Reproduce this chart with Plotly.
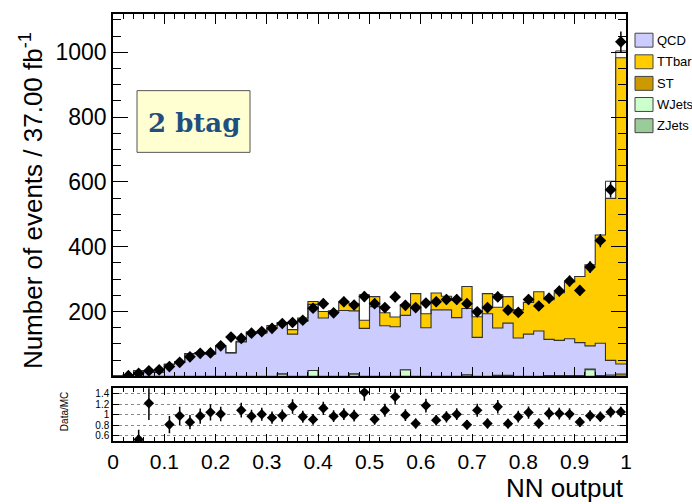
import numpy as np
import plotly.graph_objects as go

# 50 bins of width 0.02 in NN output
n_bins = 50
edges = np.linspace(0.0, 1.0, n_bins + 1)
centers = 0.5 * (edges[:-1] + edges[1:])

# observed events per bin
data = [0, 2, 9, 17, 20, 30, 43, 60, 71, 72,
        94, 121, 117, 133, 138, 148, 163, 166, 173, 210,
        224, 196, 230, 220, 246, 224, 212, 245, 219, 212,
        226, 230, 237, 237, 224, 199, 212, 245, 204, 197,
        237, 217, 241, 263, 294, 265, 337, 419, 576, 1032]

# simulated backgrounds per bin
qcd = [1, 5, 17, 14, 12, 37, 44, 70, 73, 69,
       92, 72, 106, 134, 133, 149, 152, 130, 170, 204,
       180, 197, 203, 194, 148, 215, 156, 153, 168, 214,
       150, 205, 205, 181, 204, 120, 193, 146, 161, 118,
       130, 140, 112, 109, 114, 102, 72, 100, 45, 31]
ttbar = [0, 0, 0, 0, 0, 0, 0, 0, 0, 0,
         1, 1, 2, 3, 4, 8, 6, 14, 10, 9,
         20, 5, 25, 22, 25, 31, 40, 30, 33, 41,
         43, 52, 42, 54, 68, 64, 62, 64, 82, 87,
         98, 121, 122, 147, 175, 204, 250, 334, 500, 945]
st = [0, 0, 0, 0, 0, 0, 0, 0, 0, 0,
      0, 0, 0, 0, 0, 0, 0, 0, 0, 0,
      0, 0, 0, 0, 0, 0, 0, 0, 0, 0,
      0, 0, 0, 0, 0, 0, 0, 0, 0, 0,
      0, 0, 2, 2, 2, 2, 2, 2, 4, 7]
wjets = [0, 0, 0, 0, 0, 0, 0, 0, 0, 0,
         0, 0, 0, 0, 0, 0, 0, 0, 0, 18,
         0, 0, 0, 0, 0, 0, 0, 0, 20, 0,
         0, 0, 0, 0, 0, 0, 0, 3, 3, 0,
         0, 0, 0, 0, 0, 0, 20, 0, 0, 0]
zjets = [0, 0, 0, 0, 0, 0, 0, 0, 0, 0,
         0, 0, 0, 0, 0, 0, 8, 0, 0, 0,
         0, 0, 0, 8, 0, 0, 0, 0, 0, 0,
         0, 0, 0, 0, 5, 0, 0, 0, 0, 0,
         0, 0, 0, 0, 0, 0, 0, 0, 0, 0]

# outlined reference histogram drawn beneath the stack
outline_hist = [0, 0, 0, 0, 0, 0, 0, 0, 0, 0,
                0, 0, 0, 0, 0, 0, 0, 163, 0, 0,
                0, 0, 0, 0, 252, 0, 0, 0, 0, 0,
                0, 0, 0, 0, 0, 0, 0, 252, 0, 0,
                0, 0, 0, 0, 0, 0, 0, 0, 602, 1004]

# relative statistical uncertainty of the simulation, added to the ratio errors
mc_rel_unc = 0.09

colors = {
    "QCD": "#ccccff",
    "TTbar": "#ffcc00",
    "ST": "#cc9900",
    "WJets": "#ccffcc",
    "ZJets": "#99cc99",
}
legend_order = ["QCD", "TTbar", "ST", "WJets", "ZJets"]

FONT = "Liberation Sans, Arial, sans-serif"
EDGE = "#333333"


def step(vals):
    vals = list(vals)
    return list(edges), vals + [vals[-1]]


fig = go.Figure()

# white outlined histogram behind everything
sx, sy = step(outline_hist)
fig.add_trace(go.Scatter(x=sx, y=sy, mode="lines", line=dict(shape="hv", color=EDGE, width=1),
                         fill="tozeroy", fillcolor="white", hoverinfo="skip",
                         xaxis="x", yaxis="y"))

# stacked backgrounds, bottom to top
stack_parts = [("ZJets", zjets), ("WJets", wjets), ("ST", st), ("QCD", qcd), ("TTbar", ttbar)]
cum = np.zeros(n_bins)
for i, (name, vals) in enumerate(stack_parts):
    cum = cum + np.array(vals, dtype=float)
    sx, sy = step(cum)
    fig.add_trace(go.Scatter(x=sx, y=sy, mode="lines", name=name,
                             line=dict(shape="hv", color=EDGE, width=1.1),
                             fill="tozeroy" if i == 0 else "tonexty",
                             fillcolor=colors[name], hoverinfo="skip",
                             xaxis="x", yaxis="y"))
mc_total = cum

# data points
data_arr = np.array(data, dtype=float)
shown = data_arr > 0
fig.add_trace(go.Scatter(
    x=centers[shown], y=data_arr[shown], mode="markers",
    marker=dict(symbol="diamond", size=9, color="black"),
    error_y=dict(type="data", array=np.sqrt(data_arr[shown]), color="black", thickness=1.5, width=0),
    xaxis="x", yaxis="y"))

# ratio panel
r_lo, r_hi = 0.5, 1.5
with np.errstate(divide="ignore", invalid="ignore"):
    ratio = data_arr / mc_total
    ratio_err = ratio * np.sqrt(1.0 / data_arr + mc_rel_unc ** 2)
in_range = (data_arr > 0) & (ratio >= r_lo) & (ratio <= r_hi)
fig.add_trace(go.Scatter(
    x=centers[in_range], y=ratio[in_range], mode="markers",
    marker=dict(symbol="diamond", size=8, color="black"),
    error_y=dict(type="data", array=ratio_err[in_range], color="black", thickness=1.5, width=0),
    xaxis="x2", yaxis="y2"))

# pixel -> paper helpers (plot area spans x 113..626, y 12..441)
L, R, T, B = 113, 626, 12, 441
def px(x):
    return (x - L) / (R - L)
def py(y):
    return (B - y) / (B - T)

main_bottom = 376
ratio_top = 388

axis_common = dict(showline=True, linecolor="black", linewidth=1.5, mirror="allticks",
                   ticks="inside", tickcolor="black", showgrid=False, zeroline=False,
                   tickfont=dict(family=FONT, size=21, color="black"))

fig.update_layout(
    width=692, height=504,
    margin=dict(l=L, r=692 - R, t=T, b=504 - B),
    paper_bgcolor="white", plot_bgcolor="white",
    showlegend=False,
    xaxis=dict(axis_common, domain=[0, 1], range=[0, 1], anchor="y", showticklabels=False,
               tickmode="linear", tick0=0, dtick=0.1, ticklen=10, tickwidth=1,
               minor=dict(ticks="inside", tickmode="linear", tick0=0, dtick=0.02, ticklen=5,
                          tickcolor="black", tickwidth=1)),
    yaxis=dict(axis_common, domain=[py(main_bottom), 1], range=[0, 1118], anchor="x",
               tickmode="array", tickvals=[200, 400, 600, 800, 1000], ticklen=15, tickwidth=1,
               tickfont=dict(family=FONT, size=23, color="black"),
               minor=dict(ticks="inside", tickmode="linear", tick0=0, dtick=50, ticklen=8,
                          tickcolor="black", tickwidth=1)),
    xaxis2=dict(axis_common, domain=[0, 1], range=[0, 1], anchor="y2",
                tickmode="linear", tick0=0, dtick=0.1, ticklen=7, tickwidth=1,
                ticklabelstandoff=1,
                minor=dict(ticks="inside", tickmode="linear", tick0=0, dtick=0.02, ticklen=4,
                           tickcolor="black", tickwidth=1)),
    yaxis2=dict(axis_common, domain=[0, py(ratio_top)], range=[r_lo, r_hi], anchor="x2",
                tickmode="array", tickvals=[0.6, 0.8, 1.0, 1.2, 1.4],
                ticktext=["0.6", "0.8", "1", "1.2", "1.4"], ticklen=6, tickwidth=1,
                tickfont=dict(family=FONT, size=10, color="black"),
                showgrid=True, gridcolor="#888888", griddash="dot", gridwidth=1),
)

annotations = [
    dict(text="Number of events / 37.00 fb<sup>-1</sup>", x=px(31), y=py(200),
         textangle=-90, font=dict(family=FONT, size=26, color="black")),
    dict(text="NN output", x=px(626), y=py(488), xanchor="right",
         font=dict(family=FONT, size=26, color="black")),
    dict(text="Data/MC", x=px(64), y=py(412), textangle=-90,
         font=dict(family=FONT, size=10, color="black")),
    dict(text="<b>2 btag</b>", x=px(193.5), y=py(122),
         font=dict(family="DejaVu Serif, serif", size=26, color="#1f4e80")),
]
shapes = [
    dict(type="rect", xref="paper", yref="paper", x0=px(137), x1=px(250), y0=py(151), y1=py(89),
         fillcolor="#ffffd2", line=dict(color="#555555", width=1), layer="above"),
]

# legend swatches and labels
leg_y = [38.3, 60.0, 81.7, 102.9, 124.2]
for name, yc in zip(legend_order, leg_y):
    shapes.append(dict(type="rect", xref="paper", yref="paper",
                       x0=px(635), x1=px(653), y0=py(yc + 7), y1=py(yc - 7),
                       fillcolor=colors[name], line=dict(color="#444444", width=1)))
    annotations.append(dict(text=name, x=px(655), y=py(yc), xanchor="left",
                            font=dict(family=FONT, size=13, color="black")))

for a in annotations:
    a.setdefault("xanchor", "center")
    a.setdefault("yanchor", "middle")
    a.setdefault("xref", "paper")
    a.setdefault("yref", "paper")
    a.setdefault("showarrow", False)

fig.update_layout(annotations=annotations, shapes=shapes)

fig.write_html("out.html")
